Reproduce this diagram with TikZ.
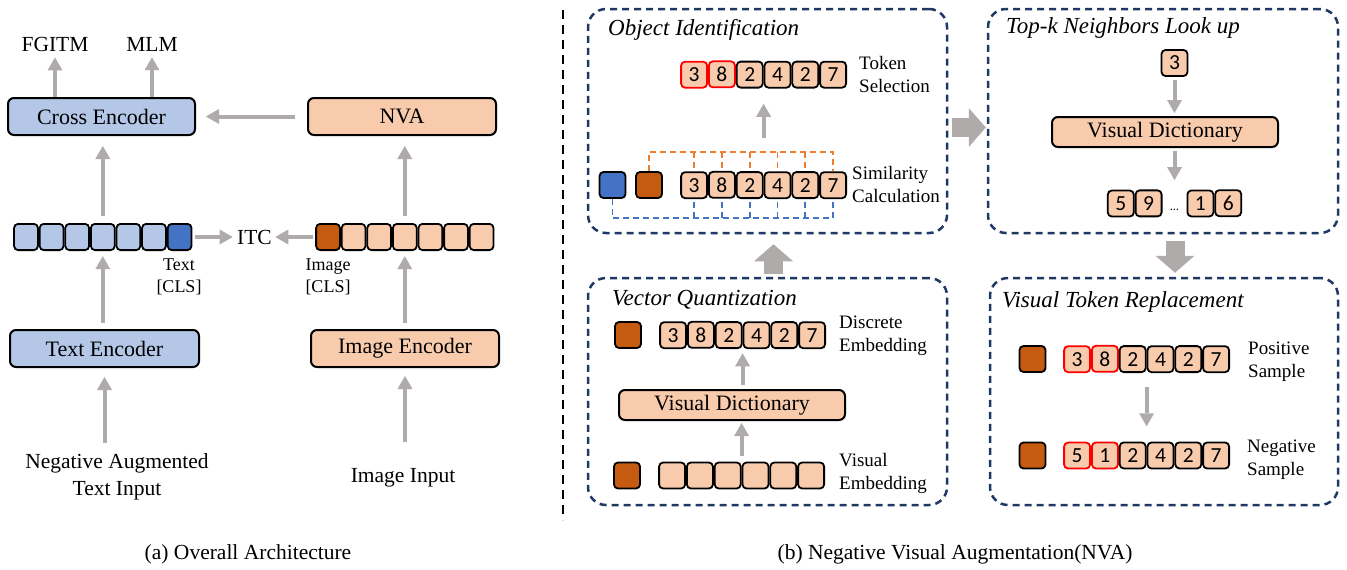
\documentclass[tikz,border=0pt]{standalone}
\usepackage{fontspec}
\setmainfont{Liberation Serif}
\newfontfamily\digitfont{Carlito}
\usetikzlibrary{matrix, positioning, calc, arrows.meta}

\definecolor{txtblue}{HTML}{B4C7E7}
\definecolor{clsblue}{HTML}{4472C4}
\definecolor{imgpeach}{HTML}{F8CBAD}
\definecolor{clsorange}{HTML}{C55A11}
\definecolor{arrgray}{HTML}{AFABAB}
\definecolor{boxnavy}{HTML}{203864}
\definecolor{simorange}{HTML}{ED7D31}

\tikzset{
	enc/.style={
		draw,
		line width=2pt,
		rounded corners=6pt,
		minimum height=37pt,
		inner sep=0pt,
		font=\fontsize{22}{26}\selectfont
	},
	tok/.style={
		draw,
		line width=1.8pt,
		rounded corners=4pt,
		fill=imgpeach,
		minimum width=26pt,
		minimum height=26pt,
		inner sep=0pt,
		font=\digitfont\fontsize{21.5}{21.5}\selectfont
	},
	ltok/.style={tok, fill=txtblue, minimum width=23.8pt, minimum height=26.2pt},
	redtok/.style={tok, draw=red},
	cls/.style={tok, fill=clsorange},
	gap/.style={draw=none, fill=none, minimum width=24pt, font=\digitfont\fontsize{12}{12}\selectfont},
	tokrow/.style={
		matrix of nodes,
		nodes={tok},
		column sep=0pt,
		inner sep=0pt,
		nodes in empty cells
	},
	garrow/.style={arrgray, line width=4pt, -{Triangle[length=13pt, width=15pt, line width=0pt]}, shorten <=7pt, shorten >=8pt},
	bigarrow/.style={arrgray, line width=19pt, -{Triangle[length=17pt, width=39pt, line width=0pt]}},
	stage/.style={draw=boxnavy, line width=2.5pt, dash pattern=on 7pt off 5pt, rounded corners=18pt},
	stagetitle/.style={anchor=west, inner sep=0pt, font=\itshape\fontsize{23}{27}\selectfont},
	lbl/.style={anchor=west, align=left, inner sep=0pt, font=\fontsize{19}{23}\selectfont},
	simline/.style={line width=1.8pt, dash pattern=on 6pt off 4pt}
}

\begin{document}
\begin{tikzpicture}[x=1pt, y=-1pt]
	\useasboundingbox (0,0) rectangle (1347,570);

	% (a) overall architecture
	\begin{scope}[every node/.append style={font=\fontsize{21.5}{27}\selectfont}]
	\node[inner sep=6pt] (fgitm) at (55,44) {FGITM};
	\node[inner sep=6pt] (mlm) at (152,44) {MLM};
	\node[enc, fill=txtblue, minimum width=187pt] (ce) at (101.5,116.5) {Cross Encoder};
	\node[enc, fill=imgpeach, minimum width=188pt] (nva) at (402,116.5) {NVA};

	\matrix[tokrow, nodes={ltok}, anchor=west] (tt) at (13,237) {
		& & & & & & |[fill=clsblue]| \\
	};
	\matrix[tokrow, nodes={ltok, fill=imgpeach}, anchor=west] (it) at (315,237) {
		|[fill=clsorange]| & & & & & & \\
	};
	\node (itc) at (254.5,237) {ITC};
	\node[align=center, font=\fontsize{18}{22}\selectfont] (tcls) at (179,277) {Text\\{[CLS]}};
	\node[align=center, font=\fontsize{18}{22}\selectfont] (icls) at (328,277) {Image\\{[CLS]}};

	\node[enc, fill=txtblue, minimum width=189pt] (te) at (104.5,348.5) {Text Encoder};
	\node[enc, fill=imgpeach, minimum width=188pt] (ie) at (405,348.5) {Image Encoder};

	\node[align=center, anchor=north] (txtin) at (117,450) {Negative Augmented\\Text Input};
	\node[anchor=north] (imgin) at (403,465) {Image Input};

	\node (capa) at (248,554) {(a) Overall Architecture};
	\node (capb) at (955,554) {(b) Negative Visual Augmentation(NVA)};
	\end{scope}

	% arrows of (a)
	\draw[garrow, shorten <=0pt, shorten >=0pt] (fgitm.south |- ce.north) -- (fgitm.south);
	\draw[garrow, shorten <=0pt, shorten >=0pt] (mlm.south |- ce.north) -- (mlm.south);
	\draw[garrow, shorten <=12pt, shorten >=10pt] (nva.west) -- (ce.east);
	\draw[garrow, shorten >=10pt] (tt.north) -- (tt.north |- ce.south);
	\draw[garrow, shorten >=10pt] (it.north) -- (it.north |- nva.south);
	\draw[garrow, shorten <=2pt, shorten >=1pt] (tt.east) -- (itc.west);
	\draw[garrow, shorten <=2pt, shorten >=0pt] (it.west) -- (itc.east);
	\draw[garrow, shorten <=6pt, shorten >=5pt] (tt.south |- te.north) -- (tt.south);
	\draw[garrow, shorten <=6pt, shorten >=5pt] (it.south |- ie.north) -- (it.south);
	\draw[garrow, shorten >=9pt] (te.south |- txtin.north) -- (te.south);
	\draw[garrow, shorten <=23pt, shorten >=8pt] (ie.south |- imgin.north) -- (ie.south);

	% divider
	\draw[line width=2.5pt, dash pattern=on 9pt off 6pt] (563,10) -- (563,520);

	% (b) stages
	\node[stage, minimum width=359pt, minimum height=224pt] (oi) at (767.5,121) {};
	\node[stage, minimum width=350pt, minimum height=224pt] (topk) at (1163,121) {};
	\node[stage, minimum width=359pt, minimum height=227pt] (vq) at (767.5,391.5) {};
	\node[stage, minimum width=348pt, minimum height=227pt] (vtr) at (1164,391.5) {};

	\node[stagetitle] (oititle) at (608,30) {Object Identification};
	\node[stagetitle] (topktitle) at (1006,28) {Top-k Neighbors Look up};
	\node[stagetitle] (vqtitle) at (612,300) {Vector Quantization};
	\node[stagetitle] (vtrtitle) at (1002,302) {Visual Token Replacement};

	% object identification
	\matrix[tokrow, anchor=west] (sel) at (680,74.5) {
		|[redtok]| 3 & |[redtok]| 8 & 2 & 4 & 2 & 7 \\
	};
	\node[lbl] (sellbl) at (859,74.5) {Token\\Selection};
	\node[tok, fill=clsblue] (bsq) at (612.5,185) {};
	\node[cls] (osq) at (649,185) {};
	\matrix[tokrow, anchor=west] (sim) at (680,185) {
		3 & 8 & 2 & 4 & 2 & 7 \\
	};
	\node[lbl] (simlbl) at (852,184) {Similarity\\Calculation};

	\coordinate (simtop) at (0,152);
	\coordinate (simbot) at (0,218);
	\draw[simline, simorange] (osq.north) |- (sim-1-6.north |- simtop) -- (sim-1-6.north);
	\draw[simline, clsblue] (bsq.south) |- (sim-1-6.south |- simbot) -- (sim-1-6.south);
	\foreach \i in {1,...,5} {
		\draw[simline, simorange] (sim-1-\i.north |- simtop) -- (sim-1-\i.north);
		\draw[simline, clsblue] (sim-1-\i.south |- simbot) -- (sim-1-\i.south);
	}
	\draw[garrow, shorten <=33pt, shorten >=15pt] (sim.north) -- (sel.south);

	% vector quantization
	\node[cls] (osq2) at (628,335) {};
	\matrix[tokrow, anchor=west] (disc) at (659,335) {
		3 & 8 & 2 & 4 & 2 & 7 \\
	};
	\node[lbl] (disclbl) at (839,335.5) {Discrete\\Embedding};
	\node[enc, fill=imgpeach, minimum width=226pt, minimum height=30pt] (vd1) at (732,405) {Visual Dictionary};
	\node[cls] (osq3) at (627,475.5) {};
	\matrix[tokrow, anchor=west] (vemb) at (658,475.5) {
		& & & & & \\
	};
	\node[lbl] (vemblbl) at (839,473.5) {Visual\\Embedding};
	\draw[garrow, shorten <=5pt, shorten >=2pt] (vemb.north) -- (vemb.north |- vd1.south);
	\draw[garrow, shorten <=4pt, shorten >=4pt] (disc.south |- vd1.north) -- (disc.south);

	% top-k neighbors
	\node[tok] (q) at (1174.5,63) {3};
	\node[enc, fill=imgpeach, minimum width=226pt, minimum height=30pt] (vd2) at (1165,132) {Visual Dictionary};
	\matrix[tokrow] (nb) at (1174.5,206) {
		5 & 9 & |[gap]| … & 1 & 6 \\
	};
	\draw[garrow, shorten <=3pt, shorten >=3pt] (q.south) -- (q.south |- vd2.north);
	\draw[garrow, shorten <=3pt, shorten >=9pt] (q.south |- vd2.south) -- (q.south |- nb.north);

	% visual token replacement
	\node[cls] (osq4) at (1032.5,359) {};
	\matrix[tokrow, anchor=west] (pos) at (1063,359) {
		|[redtok]| 3 & |[redtok]| 8 & 2 & 4 & 2 & 7 \\
	};
	\node[lbl] (poslbl) at (1248,362) {Positive\\Sample};
	\node[cls] (osq5) at (1032.5,455.5) {};
	\matrix[tokrow, anchor=west] (neg) at (1063,455.5) {
		|[redtok]| 5 & |[redtok]| 1 & 2 & 4 & 2 & 7 \\
	};
	\node[lbl] (neglbl) at (1247,459.5) {Negative\\Sample};
	\draw[garrow, shorten <=14pt, shorten >=15pt] (pos.south) -- (neg.north);

	% flow between stages
	\draw[bigarrow] ([shift={(4,6.5)}]oi.east) -- ([shift={(-1,6.5)}]topk.west);
	\draw[bigarrow] ([shift={(6,-3)}]vq.north) -- ([shift={(6,10)}]oi.south);
	\draw[bigarrow] ([shift={(12,7)}]topk.south) -- ([shift={(11,-4)}]vtr.north);
\end{tikzpicture}
\end{document}
